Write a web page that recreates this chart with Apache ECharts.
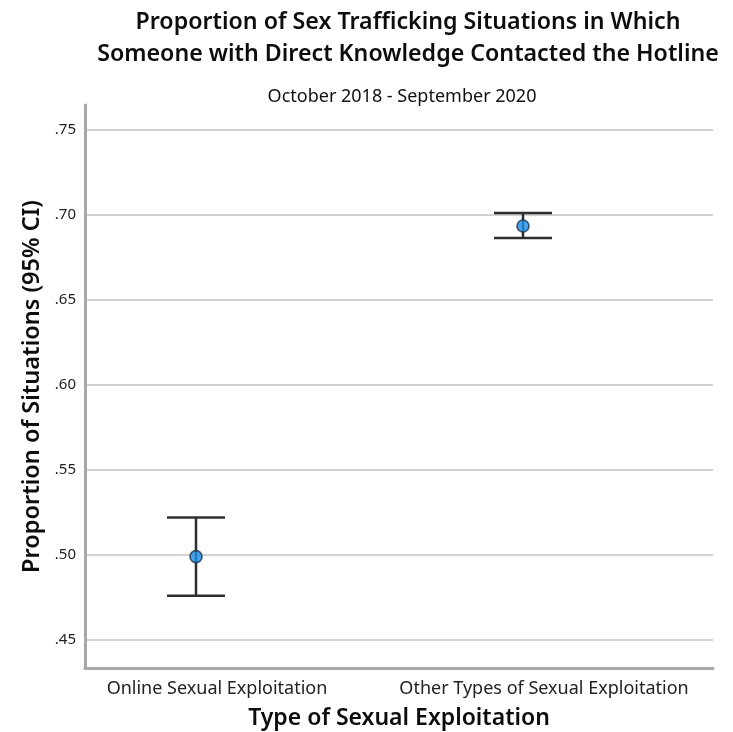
<!DOCTYPE html>
<html>
<head>
<meta charset="utf-8">
<script src="https://cdn.jsdelivr.net/npm/echarts@6/dist/echarts.min.js"></script>
<style>
  html, body { margin: 0; padding: 0; background: #fff; }
  #chart { width: 733px; height: 732px; }
</style>
</head>
<body>
<div id="chart"></div>
<script>
// Groups and their x positions on the value axis
const categories = ['Online Sexual Exploitation', 'Other Types of Sexual Exploitation'];
const categoryPos = [1, 2];

// Estimated proportion and 95% confidence interval per group
const proportion = [0.499, 0.6935];
const ciLower = [0.476, 0.6865];
const ciUpper = [0.522, 0.7012];

// Y axis tick values
const yTicks = [0.45, 0.50, 0.55, 0.60, 0.65, 0.70, 0.75];

const FONT = '"Noto Sans", "Open Sans", sans-serif';

const chart = echarts.init(document.getElementById('chart'), null, { renderer: 'canvas' });

const points = categoryPos.map((x, i) => [x, proportion[i]]);
const bars = categoryPos.map((x, i) => [x, ciLower[i], ciUpper[i]]);

chart.setOption({
  animation: false,
  backgroundColor: '#ffffff',
  title: [
    {
      text: 'Proportion of Sex Trafficking Situations in Which\nSomeone with Direct Knowledge Contacted the Hotline',
      left: 403,
      top: 1,
      textAlign: 'center',
      textStyle: { fontFamily: FONT, fontWeight: 600, fontSize: 23.2, lineHeight: 32, color: '#0d0d0d' }
    },
    {
      text: 'October 2018 - September 2020',
      left: 397,
      top: 83,
      textAlign: 'center',
      textStyle: { fontFamily: FONT, fontWeight: 'normal', fontSize: 18, color: '#111' }
    }
  ],
  grid: { left: 85, right: 20, top: 105, bottom: 64, containLabel: false, outerBoundsMode: 'none' },
  xAxis: {
    type: 'value',
    min: 0.6606,
    max: 2.581,
    name: 'Type of Sexual Exploitation',
    nameLocation: 'middle',
    nameGap: 39,
    nameTextStyle: { fontFamily: FONT, fontWeight: 600, fontSize: 23, color: '#0d0d0d' },
    axisLine: { show: true, onZero: false, lineStyle: { color: '#a8a8a8', width: 3 } },
    axisTick: { show: false },
    splitLine: { show: false },
    axisLabel: {
      customValues: categoryPos,
      formatter: v => categories[Math.round(v) - 1],
      fontFamily: FONT,
      fontSize: 18,
      color: '#222',
      margin: 12,
      padding: [0, 0, 0, 42]
    }
  },
  yAxis: {
    type: 'value',
    min: 0.4335,
    max: 0.7647,
    name: 'Proportion of Situations (95% CI)',
    nameLocation: 'middle',
    nameGap: 39,
    nameTextStyle: { fontFamily: FONT, fontWeight: 600, fontSize: 23.5, color: '#0d0d0d' },
    axisLine: { show: true, lineStyle: { color: '#a8a8a8', width: 3 } },
    axisTick: { show: false, customValues: yTicks },
    axisLabel: {
      customValues: yTicks,
      formatter: v => v.toFixed(2).replace(/^0/, ''),
      fontFamily: FONT,
      fontSize: 15,
      color: '#222',
      margin: 9
    },
    splitLine: { show: true, lineStyle: { color: '#d2d2d2', width: 2 } }
  },
  series: [
    {
      type: 'custom',
      data: bars,
      z: 3,
      renderItem: (params, api) => {
        const x = api.value(0);
        const lo = api.coord([x, api.value(1)]);
        const hi = api.coord([x, api.value(2)]);
        const half = 29;
        const style = { stroke: '#2e2e2e', lineWidth: 2.5 };
        return {
          type: 'group',
          children: [
            { type: 'line', shape: { x1: lo[0], y1: lo[1], x2: hi[0], y2: hi[1] }, style },
            { type: 'line', shape: { x1: hi[0] - half, y1: hi[1], x2: hi[0] + half, y2: hi[1] }, style },
            { type: 'line', shape: { x1: lo[0] - half, y1: lo[1], x2: lo[0] + half, y2: lo[1] }, style }
          ]
        };
      }
    },
    {
      type: 'scatter',
      data: points,
      z: 5,
      symbol: 'circle',
      symbolSize: 12,
      itemStyle: { color: '#1b8ee6', borderColor: '#1f3550', borderWidth: 1.6 }
    }
  ]
});
</script>
</body>
</html>
